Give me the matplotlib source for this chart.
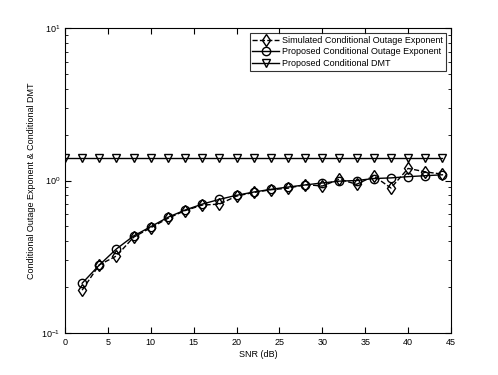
import matplotlib
matplotlib.use("Agg")
import matplotlib.pyplot as plt
import numpy as np

plt.rcParams['font.family'] = ['Liberation Sans', 'DejaVu Sans']

# data
snr_dmt = np.arange(0, 45, 2)
dmt = [1.4] * len(snr_dmt)

snr = np.arange(2, 45, 2)
proposed = [0.212, 0.279, 0.356, 0.433, 0.498, 0.574, 0.64, 0.70, 0.752, 0.80, 0.84,
            0.875, 0.906, 0.935, 0.964, 0.99, 1.0, 1.03, 1.04, 1.06, 1.075, 1.09]
simulated = [0.191, 0.28, 0.32, 0.425, 0.49, 0.565, 0.635, 0.69, 0.70, 0.79, 0.835,
             0.87, 0.89, 0.94, 0.92, 1.02, 0.944, 1.07, 0.893, 1.20, 1.14, 1.10]

fig = plt.figure(figsize=(4.98, 3.75), dpi=100)
ax = fig.add_axes([65 / 498, 1 - 333 / 375, 386 / 498, 305 / 375])

ax.semilogy(snr, simulated, 'k--', marker='d', mfc='none', mec='k', ms=6, lw=1,
            label='Simulated Conditional Outage Exponent')
ax.semilogy(snr, proposed, 'k-', marker='o', mfc='none', mec='k', ms=6, lw=1,
            label='Proposed Conditional Outage Exponent')
ax.semilogy(snr_dmt, dmt, 'k-', marker='v', mfc='none', mec='k', ms=6, lw=1,
            label='Proposed Conditional DMT')

ax.set_xlim(0, 45)
ax.set_ylim(0.1, 10)
ax.set_xticks(np.arange(0, 46, 5))
ax.tick_params(which='both', direction='in', top=True, right=True, labelsize=6.5)
ax.tick_params(which='major', length=4)
ax.tick_params(which='minor', length=2)
ax.set_xlabel('SNR (dB)', fontsize=6.5, labelpad=2)
ax.set_ylabel('Conditional Outage Exponent & Conditional DMT', fontsize=6.5)

leg = ax.legend(loc='upper right', fontsize=6.5, fancybox=False, edgecolor='k',
                borderaxespad=0.55, handlelength=3, handletextpad=0.35,
                labelspacing=0.3, borderpad=0.3)
leg.get_frame().set_linewidth(0.8)

fig.savefig('out.png', dpi=100)
